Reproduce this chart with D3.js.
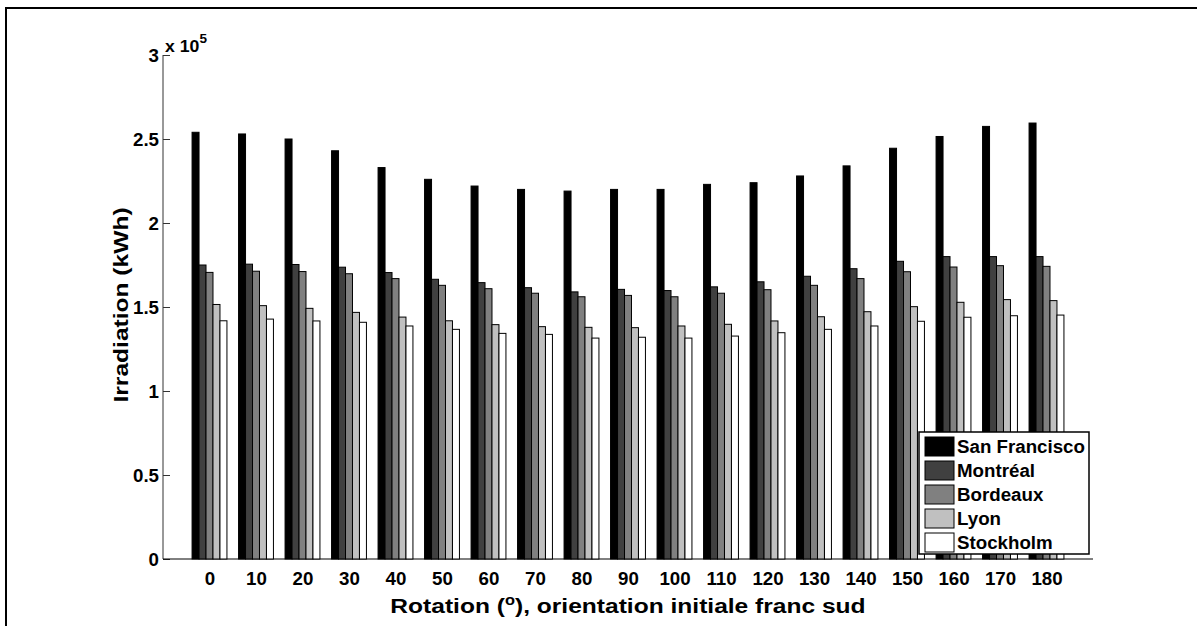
<!DOCTYPE html>
<html>
<head>
<meta charset="utf-8">
<script src="https://cdn.jsdelivr.net/npm/d3@7"></script>
<style>
  body { margin: 0; background: #fff; }
  svg text { font-family: "Liberation Sans", Arial, sans-serif; font-weight: bold; fill: #000; }
</style>
</head>
<body>
<div id="chart"></div>
<script>
// rotation angles (degrees)
const rotations = [0, 10, 20, 30, 40, 50, 60, 70, 80, 90, 100, 110, 120, 130, 140, 150, 160, 170, 180];
const cities = ["San Francisco", "Montréal", "Bordeaux", "Lyon", "Stockholm"];
const cityColors = ["#000000", "#404040", "#808080", "#c0c0c0", "#ffffff"];

// irradiation, x 10^5 kWh
const sanFrancisco = [2.54, 2.53, 2.50, 2.43, 2.33, 2.26, 2.22, 2.20, 2.19, 2.20, 2.20, 2.23, 2.24, 2.28, 2.34, 2.445, 2.515, 2.575, 2.595];
const montreal     = [1.75, 1.755, 1.753, 1.737, 1.705, 1.665, 1.645, 1.615, 1.59, 1.605, 1.598, 1.62, 1.65, 1.683, 1.728, 1.772, 1.80, 1.80, 1.80];
const bordeaux     = [1.706, 1.713, 1.711, 1.698, 1.669, 1.629, 1.609, 1.582, 1.561, 1.569, 1.561, 1.582, 1.603, 1.629, 1.669, 1.71, 1.738, 1.746, 1.742];
const lyon         = [1.515, 1.508, 1.492, 1.468, 1.44, 1.418, 1.395, 1.383, 1.379, 1.377, 1.387, 1.397, 1.417, 1.442, 1.472, 1.502, 1.528, 1.544, 1.538];
const stockholm    = [1.418, 1.428, 1.417, 1.409, 1.387, 1.367, 1.343, 1.337, 1.315, 1.32, 1.315, 1.327, 1.347, 1.367, 1.387, 1.415, 1.439, 1.448, 1.452];
const series = [sanFrancisco, montreal, bordeaux, lyon, stockholm];

const yTicks = [0, 0.5, 1, 1.5, 2, 2.5, 3];

const W = 1197, H = 626;
const margin = {top: 55, right: 104, bottom: 67, left: 163};
const width = W - margin.left - margin.right;
const height = H - margin.top - margin.bottom;
const stretch = 1.17;   // titles are wider than plain arial
const tickStretch = 1.04;

const svg = d3.select("#chart").append("svg")
    .attr("width", W)
    .attr("height", H);

// outer frame (top and left edges only)
svg.append("path")
    .attr("d", `M6,${H} L6,8 L${W},8`)
    .attr("fill", "none")
    .attr("stroke", "#000")
    .attr("stroke-width", 2);

const g = svg.append("g")
    .attr("transform", "translate(" + margin.left + "," + margin.top + ")");

// x in bar-index units, like matlab: groups at 1..19, limits 0..20
const x = d3.scaleLinear().domain([0, rotations.length + 1]).range([0, width]);
const y = d3.scaleLinear().domain([0, 3]).range([height, 0]);

const step = x(1) - x(0);
const groupW = step * 0.75;
const x1 = d3.scaleBand().domain(d3.range(cities.length)).range([-groupW / 2, groupW / 2]);

// axes
const yAxis = d3.axisLeft(y).tickValues(yTicks).tickSize(-7)
    .tickFormat(d => d3.format("")(d));
const yG = g.append("g").call(yAxis);
yG.select(".domain").attr("stroke", "#333").attr("d", `M0,${height}V0`);
yG.selectAll(".tick line").attr("stroke", "#333");
yG.selectAll(".tick text")
    .attr("font-size", 18).attr("x", 0).attr("dy", "0.36em")
    .attr("transform", "translate(-4,0) scale(" + tickStretch + ",1)");

const xAxis = d3.axisBottom(x).tickValues(d3.range(1, rotations.length + 1)).tickSize(-7).tickPadding(13)
    .tickFormat(d => rotations[d - 1]);
const xG = g.append("g").attr("transform", "translate(0," + height + ")").call(xAxis);
xG.select(".domain").attr("stroke", "#000").attr("d", `M0,0H${width}`);
xG.selectAll(".tick line").attr("stroke", "#333");
xG.selectAll(".tick text").attr("font-size", 18)
    .attr("transform", "scale(" + tickStretch + ",1)");

// bars
const groups = g.selectAll(".grp").data(rotations).enter().append("g")
    .attr("class", "grp")
    .attr("transform", (d, i) => "translate(" + x(i + 1) + ",0)");

groups.selectAll("rect")
    .data((d, i) => series.map((s, k) => ({k: k, v: s[i]})))
    .enter().append("rect")
    .attr("x", d => x1(d.k))
    .attr("width", x1.bandwidth())
    .attr("y", d => y(d.v))
    .attr("height", d => height - y(d.v))
    .attr("fill", d => cityColors[d.k])
    .attr("stroke", "#000")
    .attr("stroke-width", 1);

// exponent label
const expo = g.append("text").attr("transform", "translate(2,-3) scale(" + tickStretch + ",1)").attr("font-size", 17);
expo.append("tspan").text("x 10");
expo.append("tspan").attr("dy", -9).attr("font-size", 13).text("5");

// axis titles
g.append("text")
    .attr("transform", "translate(-35," + (height / 2 - 2) + ") rotate(-90) scale(" + stretch + ",1)")
    .attr("text-anchor", "middle")
    .attr("font-size", 21)
    .text("Irradiation (kWh)");

const xt = g.append("text")
    .attr("transform", "translate(" + (width / 2) + "," + (height + 54) + ") scale(" + stretch + ",1)")
    .attr("text-anchor", "middle")
    .attr("font-size", 21);
xt.append("tspan").text("Rotation (");
xt.append("tspan").attr("dy", -8).attr("font-size", 14).text("o");
xt.append("tspan").attr("dy", 8).text("), orientation initiale franc sud");

// legend
const lg = svg.append("g").attr("transform", "translate(919,432)");
lg.append("rect")
    .attr("width", 170).attr("height", 122)
    .attr("fill", "#fff").attr("stroke", "#000").attr("stroke-width", 1.5);
const item = lg.selectAll(".item").data(cities).enter().append("g")
    .attr("transform", (d, i) => "translate(6," + (5 + i * 24) + ")");
item.append("rect")
    .attr("width", 29).attr("height", 19)
    .attr("fill", (d, i) => cityColors[i])
    .attr("stroke", "#000").attr("stroke-width", 1);
item.append("text")
    .attr("transform", "translate(32,10) scale(" + tickStretch + ",1)")
    .attr("dy", "0.36em")
    .attr("font-size", 18)
    .text(d => d);
</script>
</body>
</html>
